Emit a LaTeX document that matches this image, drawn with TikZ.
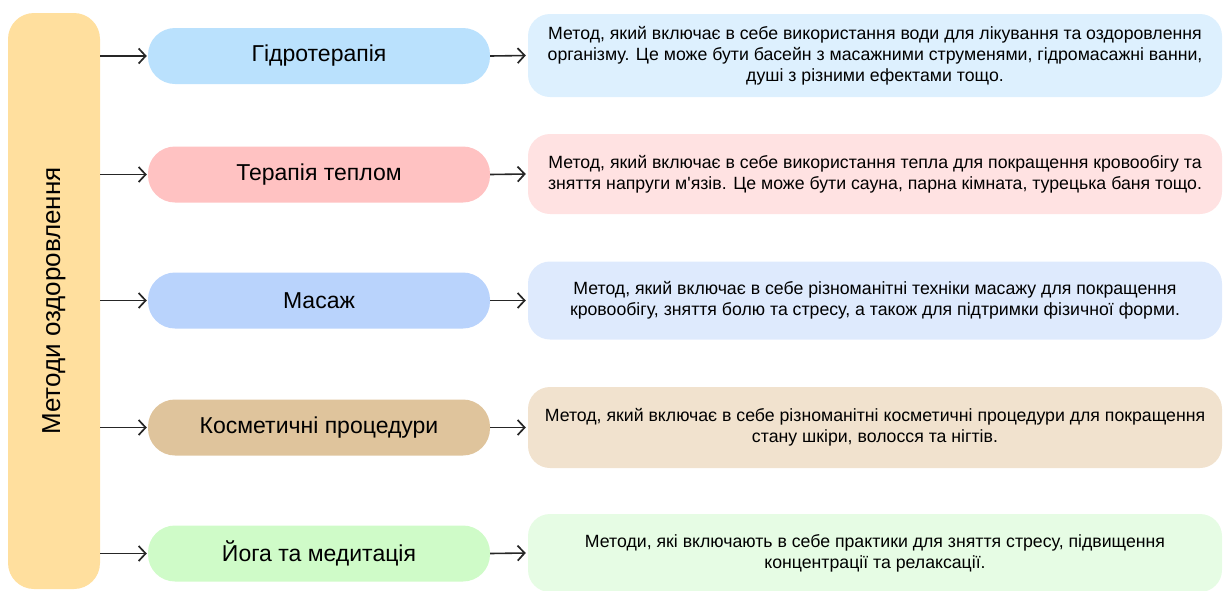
\documentclass[tikz,border=0pt]{standalone}
\usepackage{fontspec}
\newfontfamily\myf{Liberation Sans}
\usetikzlibrary{arrows.meta}
\definecolor{barc}{HTML}{FFDF9E}
\definecolor{m1c}{HTML}{BAE1FD}
\definecolor{d1c}{HTML}{DDF0FE}
\definecolor{m2c}{HTML}{FFC2C2}
\definecolor{d2c}{HTML}{FFE2E2}
\definecolor{m3c}{HTML}{B9D3FC}
\definecolor{d3c}{HTML}{DEEAFD}
\definecolor{m4c}{HTML}{DFC49C}
\definecolor{d4c}{HTML}{F1E2CE}
\definecolor{m5c}{HTML}{CFFBC8}
\definecolor{d5c}{HTML}{E6FCE4}
\begin{document}
\begin{tikzpicture}[x=1pt,y=-1pt,
  lbar/.style={rounded corners=26pt, fill=barc, minimum width=92pt, minimum height=576pt, inner sep=0pt},
  mid/.style={rounded corners=27pt, minimum width=342pt, minimum height=56pt, inner sep=0pt, font=\myf\fontsize{23}{27}\selectfont},
  desc/.style={rounded corners=22pt, minimum width=694pt, inner sep=0pt, align=center, font=\myf\fontsize{17.7}{20.8}\selectfont},
  arr/.style={-{Straight Barb[length=7pt,width=15pt,line width=1.7pt]}, line width=1.6pt, black!85}
]
\useasboundingbox (0,0) rectangle (1227,590);
\node[lbar] (bar) at (54,301) {};
\node[rotate=90, font=\myf\fontsize{26}{30}\selectfont] (bart) at (bar.center) {Методи оздоровлення};

\node[mid, fill=m1c] (m1) at (319,56) {Гідротерапія};
\node[mid, fill=m2c] (m2) at (319,174.5) {Терапія теплом};
\node[mid, fill=m3c] (m3) at (319,300.5) {Масаж};
\node[mid, fill=m4c] (m4) at (319,427.5) {Косметичні процедури};
\node[mid, fill=m5c] (m5) at (319,553.5) {Йога та медитація};

\node[desc, fill=d1c, minimum height=83pt] (d1) at (875,55.5) {Метод, який включає в себе використання води для лікування та оздоровлення\\організму. Це може бути басейн з масажними струменями, гідромасажні ванни,\\душі з різними ефектами тощо.};
\node[desc, fill=d2c, minimum height=80pt] (d2) at (875,174) {Метод, який включає в себе використання тепла для покращення кровообігу та\\зняття напруги м'язів. Це може бути сауна, парна кімната, турецька баня тощо.};
\node[desc, fill=d3c, minimum height=78pt] (d3) at (875,300.5) {Метод, який включає в себе різноманітні техніки масажу для покращення\\кровообігу, зняття болю та стресу, а також для підтримки фізичної форми.};
\node[desc, fill=d4c, minimum height=81pt] (d4) at (875,427.5) {Метод, який включає в себе різноманітні косметичні процедури для покращення\\стану шкіри, волосся та нігтів.};
\node[desc, fill=d5c, minimum height=78pt] (d5) at (875,553) {Методи, які включають в себе практики для зняття стресу, підвищення\\концентрації та релаксації.};

\foreach \i in {1,...,5}{
  \draw[arr] (bar.east |- m\i.west) -- ([xshift=-1pt]m\i.west);
  \draw[arr] (m\i.east) -- ([xshift=-2pt]d\i.west);
}
\end{tikzpicture}
\end{document}
